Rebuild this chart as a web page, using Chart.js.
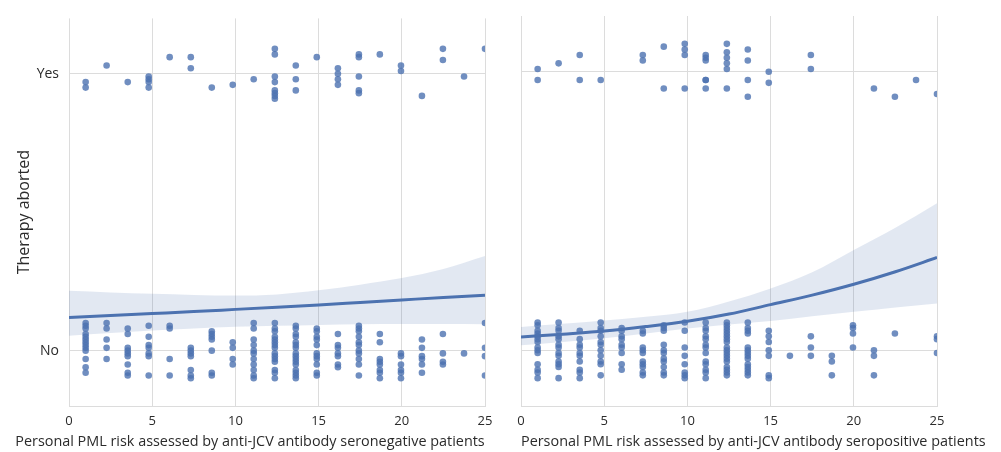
<!DOCTYPE html>
<html>
<head>
<meta charset="utf-8">
<script src="https://cdn.jsdelivr.net/npm/chart.js@4.4.1/dist/chart.umd.min.js"></script>
<style>
  body { margin: 0; background: #fff; }
  #wrap { position: relative; width: 1001px; height: 452px; }
  canvas { position: absolute; top: 0; }
</style>
</head>
<body>
<div id="wrap">
  <canvas id="negChart" width="500" height="452" style="left:0"></canvas>
  <canvas id="posChart" width="501" height="452" style="left:500px"></canvas>
</div>
<script>
// ── Data ──────────────────────────────────────────────────────────────────────
const xLevels = [1, 2.26, 3.53, 4.79, 6.05, 7.32, 8.58, 9.84, 11.1, 12.37,
                 13.63, 14.89, 16.16, 17.42, 18.68, 19.95, 21.21, 22.47, 23.74, 25];
const yTicks  = [0, 1];
const yLabels = ["No", "Yes"];
const xTitleNeg = "Personal PML risk assessed by anti-JCV antibody seronegative patients";
const xTitlePos = "Personal PML risk assessed by anti-JCV antibody seropositive patients";
const yTitle    = "Therapy aborted";

// jittered outcome values per x level (0 = No, 1 = Yes)
const negNo = [
  [0.10, 0.09, 0.08, 0.06, 0.05, 0.04, 0.03, 0.02, 0.01, 0.00, -0.03, -0.06, -0.08],
  [0.10, 0.08, 0.04, 0.01, -0.03],
  [0.08, 0.06, 0.01, 0.00, -0.01, -0.02, -0.05, -0.08, -0.09],
  [0.09, 0.05, 0.02, 0.01, -0.01, -0.02, -0.09],
  [0.09, 0.08, -0.03, -0.09],
  [0.01, 0.00, -0.01, -0.02, -0.07, -0.09, -0.10],
  [0.07, 0.06, 0.05, 0.04, 0.00, -0.08, -0.09],
  [0.03, 0.01, -0.03, -0.05],
  [0.10, 0.08, 0.04, 0.02, 0.00, -0.01, -0.03, -0.05, -0.07, -0.09, -0.10],
  [0.10, 0.08, 0.07, 0.05, 0.04, 0.03, 0.02, 0.01, -0.01, -0.02, -0.03, -0.04, -0.07, -0.08, -0.10],
  [0.09, 0.08, 0.06, 0.05, 0.03, 0.02, 0.01, -0.01, -0.02, -0.03, -0.04, -0.05, -0.07, -0.08, -0.09, -0.10],
  [0.08, 0.07, 0.05, 0.04, 0.02, -0.01, -0.02, -0.03, -0.05, -0.08, -0.09],
  [0.06, 0.02, 0.01, -0.01, -0.02, -0.05, -0.06],
  [0.09, 0.08, 0.07, 0.05, 0.03, 0.02, 0.00, -0.01, -0.03, -0.05, -0.09],
  [0.06, 0.03, -0.03, -0.04, -0.05, -0.07, -0.08, -0.10],
  [-0.01, -0.02, -0.05, -0.07, -0.08, -0.10],
  [0.04, 0.01, -0.02, -0.03, -0.05, -0.08],
  [0.06, -0.01, -0.04, -0.05],
  [-0.01],
  [0.10, 0.01, -0.02, -0.09],
];
const negYes = [
  [0.97, 0.95], [1.03], [0.97], [0.99, 0.98, 0.97, 0.95], [1.06], [1.06, 1.02],
  [0.95], [0.96], [0.98], [1.09, 1.07, 0.99, 0.97, 0.94, 0.93, 0.92, 0.91],
  [1.03, 0.98, 0.94], [1.06], [1.02, 1.00, 0.98, 0.96], [1.07, 1.06, 0.99, 0.94, 0.93],
  [1.07], [1.03, 1.01], [0.92], [1.09, 1.05], [0.99], [1.09],
];
const posNo = [
  [0.10, 0.09, 0.07, 0.06, 0.05, 0.04, 0.03, 0.01, 0.00, -0.01, -0.05, -0.07, -0.08, -0.10],
  [0.10, 0.08, 0.07, 0.05, 0.04, 0.02, 0.01, -0.01, -0.02, -0.04, -0.05, -0.06, -0.10],
  [0.07, 0.04, 0.02, 0.01, -0.01, -0.02, -0.04, -0.07, -0.08, -0.10],
  [0.10, 0.08, 0.07, 0.05, 0.03, 0.02, 0.00, -0.02, -0.04, -0.05, -0.09],
  [0.08, 0.07, 0.05, 0.04, 0.02, 0.01, -0.01, -0.05, -0.07],
  [0.07, 0.06, 0.01, 0.00, -0.01, -0.04, -0.05, -0.06, -0.08, -0.09],
  [0.09, 0.08, 0.07, 0.02, 0.00, -0.01, -0.03, -0.04, -0.06, -0.08, -0.09],
  [0.10, 0.07, 0.01, -0.02, -0.05, -0.08, -0.09, -0.10],
  [0.10, 0.08, 0.07, 0.05, 0.04, 0.02, 0.01, -0.01, -0.04, -0.05, -0.07, -0.08, -0.10],
  [0.10, 0.09, 0.08, 0.07, 0.06, 0.05, 0.04, 0.03, 0.01, 0.00, -0.01, -0.02, -0.03, -0.04, -0.06, -0.07, -0.08, -0.09],
  [0.10, 0.08, 0.07, 0.06, 0.01, 0.00, -0.01, -0.02, -0.03, -0.05, -0.06, -0.07, -0.08, -0.09],
  [0.07, 0.05, 0.03, 0.00, -0.02, -0.09, -0.10],
  [-0.02],
  [0.05, 0.01, -0.02],
  [-0.02, -0.04, -0.09],
  [0.09, 0.08, 0.06, 0.01],
  [0.00, -0.02, -0.09],
  [0.06],
  [],
  [0.05, 0.04, -0.01],
];
const posYes = [
  [1.01, 0.97], [1.03], [1.06, 0.97], [0.97], [], [1.06, 1.04], [1.09, 0.94],
  [1.10, 1.08, 1.06, 0.94], [1.06, 1.05, 1.04, 0.97, 0.97, 0.94],
  [1.10, 1.07, 1.05, 1.03, 1.01, 0.94], [1.08, 1.04, 0.97, 0.91], [1.00, 0.96],
  [], [1.06, 1.01], [], [], [0.94], [0.91], [0.97], [0.92],
];

// logistic fit and its confidence band, read at these x values
const curveX = [0, 2.5, 5, 7.5, 10, 12.5, 15, 17.5, 20, 22.5, 25];
const negFit = [0.120, 0.127, 0.134, 0.141, 0.149, 0.157, 0.165, 0.174, 0.183, 0.192, 0.200];
const negLo  = [0.054, 0.064, 0.073, 0.080, 0.086, 0.090, 0.093, 0.095, 0.096, 0.096, 0.095];
const negHi  = [0.216, 0.210, 0.205, 0.201, 0.199, 0.203, 0.218, 0.238, 0.262, 0.295, 0.342];
const posFit = [0.048, 0.058, 0.069, 0.085, 0.104, 0.130, 0.164, 0.198, 0.237, 0.282, 0.333];
const posLo  = [0.018, 0.030, 0.043, 0.060, 0.078, 0.093, 0.105, 0.122, 0.138, 0.154, 0.168];
const posHi  = [0.084, 0.095, 0.107, 0.120, 0.138, 0.175, 0.222, 0.280, 0.360, 0.440, 0.528];

// ── Styling ───────────────────────────────────────────────────────────────────
const BLUE = "76,114,176";
const GRID = "#dcdcdc";
const TEXT = "#2b2b2b";
const FONT = "'Open Sans', sans-serif";

Chart.defaults.font.family = FONT;
Chart.defaults.color = TEXT;

function toPoints(levels) {
  const pts = [];
  levels.forEach((ys, i) => ys.forEach(y => pts.push({ x: xLevels[i], y })));
  return pts;
}

function curve(vals) {
  return curveX.map((x, i) => ({ x, y: vals[i] }));
}

// x caption: the text is wider than the plot, so draw it without squeezing
const captionPlugin = {
  id: "caption",
  afterDraw(chart, args, opts) {
    const { ctx, chartArea, width, height } = chart;
    ctx.save();
    ctx.font = `14.4px ${FONT}`;
    ctx.fillStyle = TEXT;
    ctx.textBaseline = "middle";
    ctx.textAlign = opts.align;
    const x = opts.align === "center" ? width / 2 : chartArea.left;
    ctx.fillText(opts.text, x, height - 10);
    ctx.restore();
  },
};

// ── Panel builder ─────────────────────────────────────────────────────────────
function makePanel(id, no, yes, fit, lo, hi, isLeft) {
  const smooth = { showLine: true, pointRadius: 0, cubicInterpolationMode: "monotone" };

  new Chart(document.getElementById(id), {
    type: "scatter",
    plugins: [captionPlugin],
    data: {
      datasets: [
        {
          data: toPoints(no).concat(toPoints(yes)),
          pointRadius: 3.3,
          pointBackgroundColor: `rgba(${BLUE},0.8)`,
          pointBorderWidth: 0,
          pointBorderColor: "transparent",
          order: 3,
        },
        { ...smooth, data: curve(lo), borderColor: "transparent", borderWidth: 1, fill: false, order: 2 },
        { ...smooth, data: curve(hi), borderColor: "transparent", borderWidth: 1,
          fill: "-1", backgroundColor: `rgba(${BLUE},0.16)`, order: 2 },
        { ...smooth, data: curve(fit), borderColor: `rgb(${BLUE})`, borderWidth: 3, fill: false, order: 1 },
      ],
    },
    options: {
      responsive: false,
      animation: false,
      events: [],
      layout: { padding: isLeft ? { left: 0, top: 16, right: 15, bottom: 0 }
                                : { left: 0, top: 16, right: 64, bottom: 0 } },
      plugins: {
        legend: { display: false },
        tooltip: { enabled: false },
        caption: { text: isLeft ? xTitleNeg : xTitlePos, align: isLeft ? "center" : "left" },
      },
      scales: {
        x: {
          type: "linear",
          min: 0, max: 25,
          ticks: { stepSize: 5, padding: 7, color: TEXT, font: { size: 13 } },
          grid: { color: GRID, drawTicks: false },
          border: { display: true, color: GRID },
          afterFit: s => { s.height = 46; },
        },
        y: {
          min: -0.2, max: 1.2,
          afterBuildTicks: s => { s.ticks = yTicks.map(v => ({ value: v })); },
          ticks: {
            display: isLeft,
            padding: 10,
            color: TEXT,
            font: { size: 14 },
            callback: (v, i) => yLabels[i],
          },
          grid: { color: GRID, drawTicks: false },
          border: { display: false },
          title: {
            display: isLeft,
            text: yTitle,
            color: TEXT,
            font: { size: 16 },
            padding: { top: 15, bottom: 0 },
          },
          afterFit: s => { s.width = isLeft ? 69 : 21; },
        },
      },
    },
  });
}

makePanel("negChart", negNo, negYes, negFit, negLo, negHi, true);
makePanel("posChart", posNo, posYes, posFit, posLo, posHi, false);
</script>
</body>
</html>
